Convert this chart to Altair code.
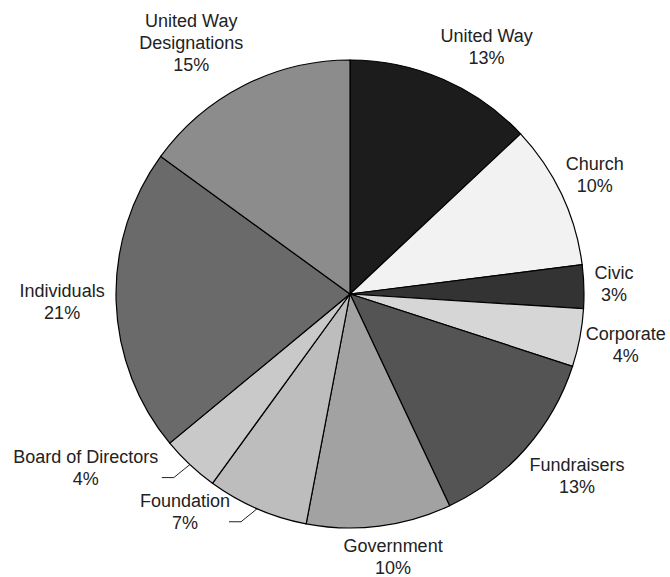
import altair as alt
import pandas as pd

categories = ["United Way", "Church", "Civic", "Corporate", "Fundraisers",
              "Government", "Foundation", "Board of Directors", "Individuals",
              "United Way Designations"]
label_names = ["United Way", "Church", "Civic", "Corporate", "Fundraisers",
               "Government", "Foundation", "Board of Directors", "Individuals",
               "United Way\nDesignations"]
shares = [13, 10, 3, 4, 13, 10, 7, 4, 21, 15]
fills = ["#1c1c1c", "#f2f2f2", "#333333", "#d6d6d6", "#545454",
         "#a2a2a2", "#bdbdbd", "#c9c9c9", "#6a6a6a", "#8c8c8c"]

# style: labels drawn off to the side with a leader line
LEADER_LABELS = {"Foundation", "Board of Directors"}

CHAR_W = 8.0
LINE_H = 22
R = 234
GAP = 10
W, H = 600, 470

nlines = [n.count("\n") + 2 for n in label_names]
df = pd.DataFrame({
    "category": categories,
    "share": shares,
    "order": list(range(len(categories))),
    "text": [n + "\n" + str(v) + "%" for n, v in zip(label_names, shares)],
    "halfw": [max(len(p) for p in n.split("\n")) * CHAR_W / 2 for n in label_names],
    "halfh": [k * LINE_H / 2 for k in nlines],
    "shift": [(k - 1) * LINE_H / 2 for k in nlines],
    "leader": [c in LEADER_LABELS for c in categories],
})

base = alt.Chart(df)

pie = base.mark_arc(radius=R, stroke="black", strokeWidth=1.2).encode(
    theta=alt.Theta("share:Q", stack=True),
    color=alt.Color("category:N", scale=alt.Scale(domain=categories, range=fills), legend=None),
    order=alt.Order("order:Q"),
)

geo = base.transform_window(
    cum="sum(share)", sort=[alt.SortField("order")], frame=[None, 0]
).transform_calculate(
    mid="(datum.cum - datum.share / 2) / 100 * 2 * PI"
).transform_calculate(
    s="sin(datum.mid)", c="cos(datum.mid)"
).transform_calculate(
    ex=f"{W/2} + {R} * datum.s",
    ey=f"{H/2} - {R} * datum.c",
).transform_calculate(
    bx="datum.ex - 16", by="datum.ey + 13", hx="datum.ex - 28",
    lx=(f"datum.leader ? datum.ex - 32 - datum.halfw : "
        f"{W/2} + {R+GAP} * datum.s + datum.halfw * clamp(datum.s * 2.5, -1, 1)"),
    ly=(f"datum.leader ? datum.ey + 4 - datum.shift : "
        f"{H/2} - {R+GAP} * datum.c - datum.halfh * clamp(datum.c * 1.5, -1, 1) - datum.shift"),
)

labels = geo.mark_text(
    font="Liberation Sans", fontSize=18, lineHeight=LINE_H, lineBreak="\n",
    align="center", baseline="middle", color="#222222"
).encode(
    x=alt.X("lx:Q", scale=None, axis=None),
    y=alt.Y("ly:Q", scale=None, axis=None),
    text="text:N",
)

leader1 = geo.transform_filter("datum.leader").mark_rule(color="#222222", strokeWidth=1).encode(
    x=alt.X("ex:Q", scale=None, axis=None), y=alt.Y("ey:Q", scale=None, axis=None),
    x2="bx:Q", y2="by:Q",
)
leader2 = geo.transform_filter("datum.leader").mark_rule(color="#222222", strokeWidth=1).encode(
    x=alt.X("bx:Q", scale=None, axis=None), y=alt.Y("by:Q", scale=None, axis=None),
    x2="hx:Q", y2="by:Q",
)

chart = alt.layer(pie, leader1, leader2, labels).properties(
    width=W, height=H,
    padding={"left": 50, "top": 59, "right": 20, "bottom": 48},
    autosize="none",
    background="white",
).configure_view(stroke=None)

chart.save("out.html", embed_options={"renderer": "svg", "actions": False})
